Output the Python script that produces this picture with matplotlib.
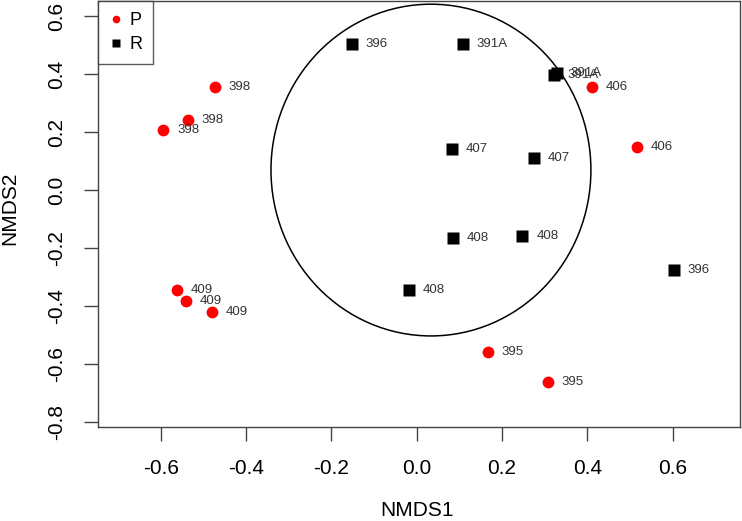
import matplotlib.pyplot as plt
from matplotlib.patches import Ellipse
from matplotlib.lines import Line2D

plt.rcParams['font.family'] = ['Liberation Sans', 'DejaVu Sans']

# group P (red dots)
p_site = ['398', '398', '398', '409', '409', '409', '406', '406', '395', '395']
p_x = [-0.473, -0.536, -0.594, -0.562, -0.541, -0.480, 0.410, 0.516, 0.167, 0.308]
p_y = [0.354, 0.241, 0.206, -0.345, -0.384, -0.422, 0.355, 0.148, -0.559, -0.662]

# group R (black squares)
r_site = ['396', '391A', '391A', '391A', '407', '407', '408', '408', '408', '396']
r_x = [-0.152, 0.108, 0.321, 0.328, 0.082, 0.275, 0.085, 0.248, -0.018, 0.603]
r_y = [0.502, 0.502, 0.398, 0.402, 0.140, 0.109, -0.166, -0.159, -0.345, -0.276]

# ellipse drawn around the R group
ell_center = (0.0335, 0.069)
ell_rx = 0.375
ell_ry = 0.572

x_ticks = [-0.6, -0.4, -0.2, 0.0, 0.2, 0.4, 0.6]
y_ticks = [-0.8, -0.6, -0.4, -0.2, 0.0, 0.2, 0.4, 0.6]

fig = plt.figure(figsize=(7.42, 5.21), dpi=100)
ax = fig.add_axes([98 / 742, 1 - 427 / 521, 642 / 742, 426 / 521])

ax.plot(p_x, p_y, 'o', color='#ff0000', ms=8.5, mec='none', zorder=3)
ax.plot(r_x, r_y, 's', color='black', ms=8, mec='none', zorder=3)

# site labels to the right of each point
for xs, ys, names in [(p_x, p_y, p_site), (r_x, r_y, r_site)]:
    for x, y, s in zip(xs, ys, names):
        ax.annotate(s, (x, y), xytext=(10, 0), textcoords='offset points',
                    ha='left', va='center', fontsize=9.5, color='#333333')

ax.add_patch(Ellipse(ell_center, 2 * ell_rx, 2 * ell_ry, fill=False,
                     edgecolor='black', lw=1.1))

ax.set_xlim(-0.747, 0.758)
ax.set_ylim(-0.817, 0.652)
ax.set_xticks(x_ticks)
ax.set_yticks(y_ticks)
ax.set_xticklabels([f'{t:.1f}' for t in x_ticks])
ax.set_yticklabels([f'{t:.1f}' for t in y_ticks], rotation=90, va='center')
ax.tick_params(length=10, width=1, color='#444444', labelsize=15, pad=13)
for sp in ax.spines.values():
    sp.set_color('#444444')
    sp.set_linewidth(1)

fig.text(417 / 742, 1 - 511 / 521, 'NMDS1', ha='center', va='center', fontsize=15)
fig.text(10 / 742, 1 - 208 / 521, 'NMDS2', ha='center', va='center',
         rotation=90, fontsize=15)

handles = [Line2D([], [], ls='none', marker='o', color='#ff0000', ms=5.5, mec='none'),
           Line2D([], [], ls='none', marker='s', color='black', ms=6, mec='none')]
leg = ax.legend(handles, ['P', 'R'], loc='upper left', borderaxespad=0,
                fancybox=False, fontsize=13, handlelength=0.8,
                handletextpad=0.35, borderpad=0.6, labelspacing=0.4)
leg.get_frame().set_edgecolor('#333333')
leg.get_frame().set_linewidth(1)

fig.savefig('out.png', dpi=100)
